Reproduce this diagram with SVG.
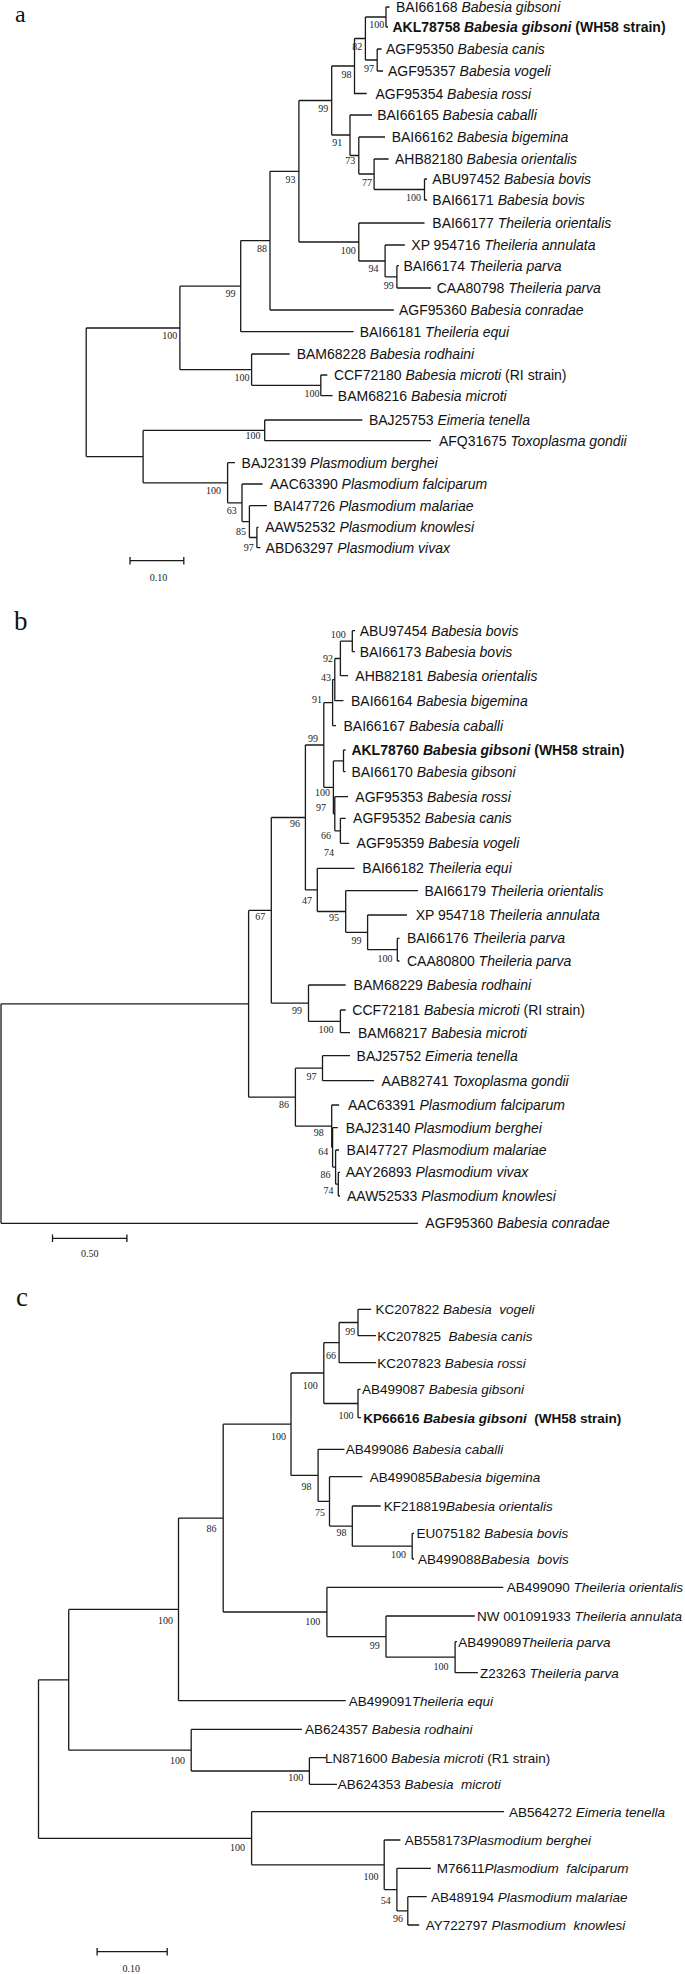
<svg xmlns="http://www.w3.org/2000/svg" width="685" height="1974" viewBox="0 0 685 1974">
<style>
.e{fill:none;stroke:#1a1a1a;stroke-width:1.3}
.t{font-family:"Liberation Sans",Arial,sans-serif;font-size:14px;fill:#111}
.tc{font-family:"Liberation Sans",Arial,sans-serif;font-size:13.5px;fill:#111}
.bs{font-family:"Liberation Serif","Times New Roman",serif;font-size:10px;fill:#222;text-anchor:end}
.sc{font-family:"Liberation Serif","Times New Roman",serif;font-size:10px;fill:#222;text-anchor:middle}
.pl{font-family:"Liberation Serif","Times New Roman",serif;font-size:27px;fill:#111}
.i{font-style:italic}
.b{font-weight:bold}
</style>
<rect width="685" height="1974" fill="#fff"/>
<g id="panel-labels">
<text class="pl" x="15" y="22" style="font-size:24px">a</text>
<text class="pl" x="14" y="630">b</text>
<text class="pl" x="16" y="1306">c</text>
</g>
<g id="connectors">
<path class="e" d="M386,7V27M386,7H389.5M386,27H388M377.2,49V71M377.2,49H381.6M377.2,71H383M365.4,17V60M365.4,17H386M365.4,60H377.2M354.5,38.5V93.5H366.7M354.5,38.5H365.4M424.5,179V200M424.5,179H427M424.5,200H427M374.1,159V189.5M374.1,159H388.6M374.1,189.5H424.5M358.8,137V174M358.8,137H385M358.8,174H374.1M350,115V155.5M350,115H372M350,155.5H358.8M331.7,66V135M331.7,66H354.5M331.7,135H350M396.9,265.7V288M396.9,265.7H399M396.9,288H431M385.1,245V276.9M385.1,245H404.8M385.1,276.9H396.9M358.8,223V261M358.8,223H424.5M358.8,261H385.1M298.9,100.5V242M298.9,100.5H331.7M298.9,242H358.8M270,171.3V310M270,171.3H298.9M270,310H393.8M240.7,240.6V331.7M240.7,240.6H270M240.7,331.7H353.6M320.8,375V395.7M320.8,375H327.3M320.8,395.7H332.6M251.6,354V385.3M251.6,354H289.7M251.6,385.3H320.8M179.9,286.2V369.7M179.9,286.2H240.7M179.9,369.7H251.6M264.7,420V440.7M264.7,420H362.3M264.7,440.7H431M256.9,527.3V547.7M256.9,527.3H258.5M256.9,547.7H260.4M249.4,505.7V537.5M249.4,505.7H267M249.4,537.5H256.9M242,484V521.6M242,484H262.6M242,521.6H249.4M227.6,462.7V502.8M227.6,462.7H235M227.6,502.8H242M143.1,430.4V482.8M143.1,430.4H264.7M143.1,482.8H227.6M86.2,328V456.6M86.2,328H179.9M86.2,456.6H143.1"/>
<path class="e" d="M130,560.7H183.8M130,557V564.5M183.8,557V564.5"/>
<path class="e" d="M352.3,630.7V651.7M352.3,630.7H355M352.3,651.7H355M340.4,641.2V675.7M340.4,641.2H352.3M340.4,675.7H348M334.8,658.5V700.7M334.8,658.5H340.4M334.8,700.7H343.5M332.6,679.6V725.7M332.6,679.6H334.8M332.6,725.7H336M343.5,750V771.7M343.5,750H345.5M343.5,771.7H345.5M340.4,818.3V843.3M340.4,818.3H345.7M340.4,843.3H349.2M334.8,796.7V830.8M334.8,796.7H348M334.8,830.8H340.4M333.4,760.9V813.8M333.4,760.9H343.5M333.4,813.8H334.8M323.8,702.7V787.3M323.8,702.7H332.6M323.8,787.3H333.4M397.3,938.3V961M397.3,938.3H399.5M397.3,961H399.5M367.6,915V949.7M367.6,915H407M367.6,949.7H397.3M345.7,890.7V932.3M345.7,890.7H417.9M345.7,932.3H367.6M317.3,868.3V911.5M317.3,868.3H354.5M317.3,911.5H345.7M305.4,745V889.9M305.4,745H323.8M305.4,889.9H317.3M340.4,1010V1032.7M340.4,1010H345.7M340.4,1032.7H350M308.5,985V1021.4M308.5,985H345.7M308.5,1021.4H340.4M271.3,817.5V1003.2M271.3,817.5H305.4M271.3,1003.2H308.5M322.5,1055.7V1080.7M322.5,1055.7H350M322.5,1080.7H374.1M338.3,1172.3V1196M338.3,1172.3H340M338.3,1196H340M335.6,1150V1184.2M335.6,1150H339M335.6,1184.2H338.3M332.6,1127.7V1167.1M332.6,1127.7H337.8M332.6,1167.1H335.6M331.7,1105V1147.4M331.7,1105H339.1M331.7,1147.4H332.6M295.4,1068.2V1126.2M295.4,1068.2H322.5M295.4,1126.2H331.7M248.6,910.4V1097.2M248.6,910.4H271.3M248.6,1097.2H295.4M1,1003.8V1223.3M1,1003.8H248.6M1,1223.3H417.9"/>
<path class="e" d="M52.5,1238.3H126.9M52.5,1234.5V1242M126.9,1234.5V1242"/>
<path class="e" d="M358,1309.3V1335.7M358,1309.3H371.1M358,1335.7H376M339.1,1322.5V1362.7M339.1,1322.5H358M339.1,1362.7H376M358,1389.3V1417.7M358,1389.3H360.5M358,1417.7H361M323.8,1342.6V1403.5M323.8,1342.6H339.1M323.8,1403.5H358M412.2,1533.3V1559M412.2,1533.3H414M412.2,1559H414M352.3,1506V1546.2M352.3,1506H380.7M352.3,1546.2H412.2M329.5,1476.7V1526.1M329.5,1476.7H362.3M329.5,1526.1H352.3M318.1,1449.3V1501.4M318.1,1449.3H344.4M318.1,1501.4H329.5M291,1373V1475.4M291,1373H323.8M291,1475.4H318.1M455.1,1641.7V1672.7M455.1,1641.7H457M455.1,1672.7H477.9M386,1616V1657.2M386,1616H474.8M386,1657.2H455.1M326.9,1587.3V1636.6M326.9,1587.3H503.2M326.9,1636.6H386M223.2,1424.2V1612M223.2,1424.2H291M223.2,1612H326.9M178.5,1518.1V1700.7M178.5,1518.1H223.2M178.5,1700.7H345.7M309.4,1757.7V1784.3M309.4,1757.7H326M309.4,1784.3H337M191.2,1729.3V1771M191.2,1729.3H302M191.2,1771H309.4M68.7,1609.4V1750.2M68.7,1609.4H178.5M68.7,1750.2H191.2M407.8,1896.7V1925M407.8,1896.7H426.7M407.8,1925H419.2M396.9,1868.3V1910.9M396.9,1868.3H431M396.9,1910.9H407.8M384.2,1840V1889.6M384.2,1840H400.4M384.2,1889.6H396.9M251.6,1811.7V1864.8M251.6,1811.7H504.1M251.6,1864.8H384.2M38.5,1679.8V1838.3M38.5,1679.8H68.7M38.5,1838.3H251.6"/>
<path class="e" d="M97.1,1951.7H167.2M97.1,1948V1955.5M167.2,1948V1955.5"/>
</g>
<g id="scale-labels">
<text class="sc" x="158.4" y="580.5">0.10</text>
<text class="sc" x="89.7" y="1256.5">0.50</text>
<text class="sc" x="131.3" y="1971.8">0.10</text>
</g>
<g id="panel-a-leaves">
<g id="a-L1"><text class="t" x="396" y="12">BAI66168 <tspan class="i">Babesia gibsoni</tspan></text></g>
<g id="a-L2"><text class="t b" x="392.5" y="32">AKL78758 <tspan class="i">Babesia gibsoni</tspan> (WH58 strain)</text></g>
<g id="a-L3"><text class="t" x="386" y="54">AGF95350 <tspan class="i">Babesia canis</tspan></text></g>
<g id="a-L4"><text class="t" x="388" y="76">AGF95357 <tspan class="i">Babesia vogeli</tspan></text></g>
<g id="a-L5"><text class="t" x="375.5" y="98.5">AGF95354 <tspan class="i">Babesia rossi</tspan></text></g>
<g id="a-L6"><text class="t" x="377.2" y="120">BAI66165 <tspan class="i">Babesia caballi</tspan></text></g>
<g id="a-L7"><text class="t" x="391.7" y="142">BAI66162 <tspan class="i">Babesia bigemina</tspan></text></g>
<g id="a-L8"><text class="t" x="395" y="164">AHB82180 <tspan class="i">Babesia orientalis</tspan></text></g>
<g id="a-L9"><text class="t" x="432.3" y="184">ABU97452 <tspan class="i">Babesia bovis</tspan></text></g>
<g id="a-L10"><text class="t" x="432.3" y="205">BAI66171 <tspan class="i">Babesia bovis</tspan></text></g>
<g id="a-L11"><text class="t" x="432.3" y="228">BAI66177 <tspan class="i">Theileria orientalis</tspan></text></g>
<g id="a-L12"><text class="t" x="411.3" y="250">XP 954716 <tspan class="i">Theileria annulata</tspan></text></g>
<g id="a-L13"><text class="t" x="403.5" y="270.7">BAI66174 <tspan class="i">Theileria parva</tspan></text></g>
<g id="a-L14"><text class="t" x="436.7" y="293">CAA80798 <tspan class="i">Theileria parva</tspan></text></g>
<g id="a-L15"><text class="t" x="399" y="315">AGF95360 <tspan class="i">Babesia conradae</tspan></text></g>
<g id="a-L16"><text class="t" x="359.7" y="336.7">BAI66181 <tspan class="i">Theileria equi</tspan></text></g>
<g id="a-L17"><text class="t" x="296.7" y="359">BAM68228 <tspan class="i">Babesia rodhaini</tspan></text></g>
<g id="a-L18"><text class="t" x="333.9" y="380">CCF72180 <tspan class="i">Babesia microti</tspan> (RI strain)</text></g>
<g id="a-L19"><text class="t" x="337.8" y="400.7">BAM68216 <tspan class="i">Babesia microti</tspan></text></g>
<g id="a-L20"><text class="t" x="368.9" y="425">BAJ25753 <tspan class="i">Eimeria tenella</tspan></text></g>
<g id="a-L21"><text class="t" x="438.9" y="445.7">AFQ31675 <tspan class="i">Toxoplasma gondii</tspan></text></g>
<g id="a-L22"><text class="t" x="241.6" y="467.7">BAJ23139 <tspan class="i">Plasmodium berghei</tspan></text></g>
<g id="a-L23"><text class="t" x="270" y="489">AAC63390 <tspan class="i">Plasmodium falciparum</tspan></text></g>
<g id="a-L24"><text class="t" x="273.5" y="510.7">BAI47726 <tspan class="i">Plasmodium malariae</tspan></text></g>
<g id="a-L25"><text class="t" x="265.2" y="532.3">AAW52532 <tspan class="i">Plasmodium knowlesi</tspan></text></g>
<g id="a-L26"><text class="t" x="265.6" y="552.7">ABD63297 <tspan class="i">Plasmodium vivax</tspan></text></g>
</g>
<g id="panel-a-support">
<text class="bs" x="384.2" y="27.5">100</text>
<text class="bs" x="362.3" y="50.2">82</text>
<text class="bs" x="374.1" y="71.8">97</text>
<text class="bs" x="351.4" y="77.5">98</text>
<text class="bs" x="328.2" y="111.8">99</text>
<text class="bs" x="342.2" y="145.8">91</text>
<text class="bs" x="355.3" y="164.2">73</text>
<text class="bs" x="372" y="186.2">77</text>
<text class="bs" x="421" y="200.8">100</text>
<text class="bs" x="295.4" y="182.5">93</text>
<text class="bs" x="355.8" y="254.2">100</text>
<text class="bs" x="378.5" y="271.8">94</text>
<text class="bs" x="393.8" y="288.5">99</text>
<text class="bs" x="267" y="251.8">88</text>
<text class="bs" x="235.4" y="296.8">99</text>
<text class="bs" x="177.2" y="338.5">100</text>
<text class="bs" x="249.4" y="381.2">100</text>
<text class="bs" x="319.4" y="396.8">100</text>
<text class="bs" x="260.4" y="438.5">100</text>
<text class="bs" x="221" y="494.2">100</text>
<text class="bs" x="236.7" y="513.5">63</text>
<text class="bs" x="245.9" y="535.2">85</text>
<text class="bs" x="253.8" y="550.8">97</text>
</g>
<g id="panel-b-leaves">
<g id="b-L1"><text class="t" x="359.7" y="635.7">ABU97454 <tspan class="i">Babesia bovis</tspan></text></g>
<g id="b-L2"><text class="t" x="359.7" y="656.7">BAI66173 <tspan class="i">Babesia bovis</tspan></text></g>
<g id="b-L3"><text class="t" x="355.3" y="680.7">AHB82181 <tspan class="i">Babesia orientalis</tspan></text></g>
<g id="b-L4"><text class="t" x="351" y="705.7">BAI66164 <tspan class="i">Babesia bigemina</tspan></text></g>
<g id="b-L5"><text class="t" x="343.5" y="730.7">BAI66167 <tspan class="i">Babesia caballi</tspan></text></g>
<g id="b-L6"><text class="t b" x="351.4" y="755">AKL78760 <tspan class="i">Babesia gibsoni</tspan> (WH58 strain)</text></g>
<g id="b-L7"><text class="t" x="351.4" y="776.7">BAI66170 <tspan class="i">Babesia gibsoni</tspan></text></g>
<g id="b-L8"><text class="t" x="355.3" y="801.7">AGF95353 <tspan class="i">Babesia rossi</tspan></text></g>
<g id="b-L9"><text class="t" x="353.1" y="823.3">AGF95352 <tspan class="i">Babesia canis</tspan></text></g>
<g id="b-L10"><text class="t" x="356.6" y="848.3">AGF95359 <tspan class="i">Babesia vogeli</tspan></text></g>
<g id="b-L11"><text class="t" x="362.3" y="873.3">BAI66182 <tspan class="i">Theileria equi</tspan></text></g>
<g id="b-L12"><text class="t" x="424.5" y="895.7">BAI66179 <tspan class="i">Theileria orientalis</tspan></text></g>
<g id="b-L13"><text class="t" x="415.7" y="920">XP 954718 <tspan class="i">Theileria annulata</tspan></text></g>
<g id="b-L14"><text class="t" x="407" y="943.3">BAI66176 <tspan class="i">Theileria parva</tspan></text></g>
<g id="b-L15"><text class="t" x="407" y="966">CAA80800 <tspan class="i">Theileria parva</tspan></text></g>
<g id="b-L16"><text class="t" x="353.6" y="990">BAM68229 <tspan class="i">Babesia rodhaini</tspan></text></g>
<g id="b-L17"><text class="t" x="352.3" y="1015">CCF72181 <tspan class="i">Babesia microti</tspan> (RI strain)</text></g>
<g id="b-L18"><text class="t" x="358" y="1037.7">BAM68217 <tspan class="i">Babesia microti</tspan></text></g>
<g id="b-L19"><text class="t" x="356.6" y="1060.7">BAJ25752 <tspan class="i">Eimeria tenella</tspan></text></g>
<g id="b-L20"><text class="t" x="381.6" y="1085.7">AAB82741 <tspan class="i">Toxoplasma gondii</tspan></text></g>
<g id="b-L21"><text class="t" x="347.9" y="1110">AAC63391 <tspan class="i">Plasmodium falciparum</tspan></text></g>
<g id="b-L22"><text class="t" x="345.7" y="1132.7">BAJ23140 <tspan class="i">Plasmodium berghei</tspan></text></g>
<g id="b-L23"><text class="t" x="346.6" y="1155">BAI47727 <tspan class="i">Plasmodium malariae</tspan></text></g>
<g id="b-L24"><text class="t" x="345.7" y="1177.3">AAY26893 <tspan class="i">Plasmodium vivax</tspan></text></g>
<g id="b-L25"><text class="t" x="347" y="1201">AAW52533 <tspan class="i">Plasmodium knowlesi</tspan></text></g>
<g id="b-L26"><text class="t" x="425.3" y="1228.3">AGF95360 <tspan class="i">Babesia conradae</tspan></text></g>
</g>
<g id="panel-b-support">
<text class="bs" x="345.7" y="637.5">100</text>
<text class="bs" x="333" y="661.8">92</text>
<text class="bs" x="331" y="680.5">43</text>
<text class="bs" x="322" y="703">91</text>
<text class="bs" x="318" y="742">99</text>
<text class="bs" x="330" y="795.5">100</text>
<text class="bs" x="326" y="811">97</text>
<text class="bs" x="331" y="838.5">66</text>
<text class="bs" x="334" y="856.2">74</text>
<text class="bs" x="300" y="826.8">96</text>
<text class="bs" x="265.2" y="920.2">67</text>
<text class="bs" x="312" y="903.5">47</text>
<text class="bs" x="339.1" y="920.8">95</text>
<text class="bs" x="361.5" y="943.5">99</text>
<text class="bs" x="392.5" y="961.8">100</text>
<text class="bs" x="302" y="1014.2">99</text>
<text class="bs" x="333.4" y="1032.8">100</text>
<text class="bs" x="316.4" y="1079.5">97</text>
<text class="bs" x="289" y="1107.5">86</text>
<text class="bs" x="323.8" y="1136.2">98</text>
<text class="bs" x="328.2" y="1154.5">64</text>
<text class="bs" x="330.4" y="1177.5">86</text>
<text class="bs" x="333.4" y="1193.5">74</text>
</g>
<g id="panel-c-leaves">
<g id="c-L1"><text class="tc" x="375.5" y="1314.3" xml:space="preserve">KC207822 <tspan class="i">Babesia  vogeli</tspan></text></g>
<g id="c-L2"><text class="tc" x="377.2" y="1340.7" xml:space="preserve">KC207825  <tspan class="i">Babesia canis</tspan></text></g>
<g id="c-L3"><text class="tc" x="377.2" y="1367.7">KC207823 <tspan class="i">Babesia rossi</tspan></text></g>
<g id="c-L4"><text class="tc" x="361.9" y="1394.3">AB499087 <tspan class="i">Babesia gibsoni</tspan></text></g>
<g id="c-L5"><text class="tc b" x="363.2" y="1422.7" xml:space="preserve">KP66616 <tspan class="i">Babesia gibsoni</tspan>  (WH58 strain)</text></g>
<g id="c-L6"><text class="tc" x="345.7" y="1454.3">AB499086 <tspan class="i">Babesia caballi</tspan></text></g>
<g id="c-L7"><text class="tc" x="369.8" y="1481.7">AB499085<tspan class="i">Babesia bigemina</tspan></text></g>
<g id="c-L8"><text class="tc" x="383.8" y="1511">KF218819<tspan class="i">Babesia orientalis</tspan></text></g>
<g id="c-L9"><text class="tc" x="416.6" y="1538.3">EU075182 <tspan class="i">Babesia bovis</tspan></text></g>
<g id="c-L10"><text class="tc" x="417.9" y="1564" xml:space="preserve">AB499088<tspan class="i">Babesia  bovis</tspan></text></g>
<g id="c-L11"><text class="tc" x="506.7" y="1592.3">AB499090 <tspan class="i">Theileria orientalis</tspan></text></g>
<g id="c-L12"><text class="tc" x="477" y="1621">NW 001091933 <tspan class="i">Theileria annulata</tspan></text></g>
<g id="c-L13"><text class="tc" x="458.2" y="1646.7">AB499089<tspan class="i">Theileria parva</tspan></text></g>
<g id="c-L14"><text class="tc" x="480" y="1677.7">Z23263 <tspan class="i">Theileria parva</tspan></text></g>
<g id="c-L15"><text class="tc" x="348.8" y="1705.7">AB499091<tspan class="i">Theileria equi</tspan></text></g>
<g id="c-L16"><text class="tc" x="305" y="1734.3">AB624357 <tspan class="i">Babesia rodhaini</tspan></text></g>
<g id="c-L17"><text class="tc" x="325.1" y="1762.7">LN871600 <tspan class="i">Babesia microti</tspan> (R1 strain)</text></g>
<g id="c-L18"><text class="tc" x="337.8" y="1789.3" xml:space="preserve">AB624353 <tspan class="i">Babesia  microti</tspan></text></g>
<g id="c-L19"><text class="tc" x="508.9" y="1816.7">AB564272 <tspan class="i">Eimeria tenella</tspan></text></g>
<g id="c-L20"><text class="tc" x="404.8" y="1845">AB558173<tspan class="i">Plasmodium berghei</tspan></text></g>
<g id="c-L21"><text class="tc" x="436.7" y="1873.3" xml:space="preserve">M76611<tspan class="i">Plasmodium  falciparum</tspan></text></g>
<g id="c-L22"><text class="tc" x="431" y="1901.7">AB489194 <tspan class="i">Plasmodium malariae</tspan></text></g>
<g id="c-L23"><text class="tc" x="425.8" y="1930" xml:space="preserve">AY722797 <tspan class="i">Plasmodium  knowlesi</tspan></text></g>
</g>
<g id="panel-c-support">
<text class="bs" x="355.3" y="1335.2">99</text>
<text class="bs" x="336" y="1358.5">66</text>
<text class="bs" x="317.7" y="1388.5">100</text>
<text class="bs" x="353.6" y="1419.2">100</text>
<text class="bs" x="286" y="1439.5">100</text>
<text class="bs" x="311.6" y="1489.5">98</text>
<text class="bs" x="325.1" y="1516.2">75</text>
<text class="bs" x="346.6" y="1536.2">98</text>
<text class="bs" x="406.1" y="1557.5">100</text>
<text class="bs" x="216.6" y="1531.8">86</text>
<text class="bs" x="320.3" y="1625.2">100</text>
<text class="bs" x="379.8" y="1648.5">99</text>
<text class="bs" x="448.5" y="1669.5">100</text>
<text class="bs" x="172.9" y="1624.2">100</text>
<text class="bs" x="185.1" y="1763.5">100</text>
<text class="bs" x="303.3" y="1780.8">100</text>
<text class="bs" x="245" y="1850.8">100</text>
<text class="bs" x="378.5" y="1879.5">100</text>
<text class="bs" x="390.8" y="1903.5">54</text>
<text class="bs" x="403" y="1921.8">96</text>
</g>
</svg>
